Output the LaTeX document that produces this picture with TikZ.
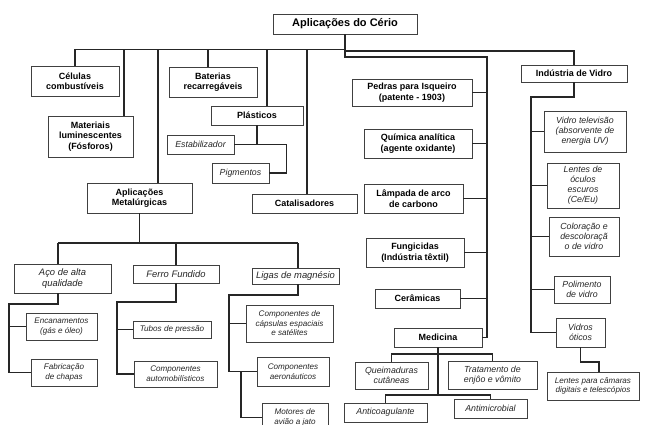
\documentclass[tikz,border=0pt]{standalone}
\usepackage{fontspec}
\setmainfont{Liberation Sans}

\begin{document}
\begin{tikzpicture}[x=1pt,y=-1pt,
  caixa/.style={draw=black!75, line width=0.9pt, fill=white, inner sep=0pt, align=center,
    font=\fontsize{9}{10.5}\selectfont\bfseries},
  sub/.style={caixa, font=\fontsize{9.4}{11}\selectfont\itshape, text=black!85},
  item/.style={caixa, font=\fontsize{8.8}{10}\selectfont\itshape, text=black!85},
  folha/.style={caixa, font=\fontsize{8.1}{9.6}\selectfont\itshape, text=black!85},
  tam/.style 2 args={minimum width=#1pt, minimum height=#2pt},
  liga/.style={line width=1.1pt, black!85}]
  \clip (0,0) rectangle (651,425);
  \useasboundingbox (0,0) rectangle (651,425);

  % raiz
  \node[caixa, tam={144}{20}, font=\fontsize{11}{13}\selectfont\bfseries] (raiz) at (345,24) {Aplicações do Cério};

  % ramos da esquerda
  \node[caixa, tam={88}{30}] (cel) at (75,81) {Células\\combustíveis};
  \node[caixa, tam={85}{41}] (mat) at (90.5,136.5) {Materiais\\luminescentes\\(Fósforos)};
  \node[caixa, tam={88}{30}] (bat) at (213,82) {Baterias\\recarregáveis};
  \node[caixa, tam={92}{19}] (pla) at (257,115.5) {Plásticos};
  \node[item, tam={67}{19}] (est) at (200.5,144.5) {Estabilizador};
  \node[item, tam={57}{20}] (pig) at (240.5,173) {Pigmentos};
  \node[caixa, tam={105}{30}] (met) at (139.5,198) {Aplicações\\Metalúrgicas};
  \node[caixa, tam={105}{19}] (cat) at (304.5,203.5) {Catalisadores};

  % metalurgia
  \node[sub, tam={97}{29}] (aco) at (62.5,278.5) {Aço de alta\\qualidade};
  \node[folha, tam={71}{27}] (enc) at (61.5,326.5) {Encanamentos\\(gás e óleo)};
  \node[folha, tam={66}{27}] (fab) at (64,372.5) {Fabricação\\de chapas};
  \node[sub, tam={86}{18}] (fer) at (176,274) {Ferro Fundido};
  \node[folha, tam={78}{17}] (tub) at (172,329.5) {Tubos de pressão};
  \node[folha, tam={83}{26}] (aut) at (175.5,374) {Componentes\\automobilísticos};
  \node[sub, tam={87}{16}] (lig) at (295.5,276) {Ligas de magnésio};
  \node[folha, tam={87}{37}] (cap) at (289.5,323.5) {Componentes de\\cápsulas espaciais\\e satélites};
  \node[folha, tam={72}{29}] (aer) at (293,371.5) {Componentes\\aeronáuticos};
  \node[folha, tam={66}{29}] (mot) at (295,417.5) {Motores de\\avião a jato};

  % coluna do meio
  \node[caixa, tam={120}{27}] (ped) at (412,92.5) {Pedras para Isqueiro\\(patente - 1903)};
  \node[caixa, tam={108}{29}] (qui) at (418,143.5) {Química analítica\\(agente oxidante)};
  \node[caixa, tam={99}{29}] (lam) at (413.5,198.5) {Lâmpada de arco\\de carbono};
  \node[caixa, tam={98}{29}] (fun) at (415,252.5) {Fungicidas\\(Indústria têxtil)};
  \node[caixa, tam={85}{19}] (cer) at (417.5,298.5) {Cerâmicas};
  \node[caixa, tam={88}{19}] (med) at (438,337.5) {Medicina};
  \node[item, tam={73}{27}] (que) at (391.5,375.5) {Queimaduras\\cutâneas};
  \node[item, tam={89}{28}] (tra) at (492.5,375) {Tratamento de\\enjôo e vômito};
  \node[item, tam={83}{19}] (ant) at (385.5,412.5) {Anticoagulante};
  \node[item, tam={73}{19}] (anm) at (490.5,408.5) {Antimicrobial};

  % vidro
  \node[caixa, tam={106}{17}] (vid) at (574,73.5) {Indústria de Vidro};
  \node[item, tam={82}{41}] (tel) at (585,131.5) {Vidro televisão\\(absorvente de\\energia UV)};
  \node[item, tam={72}{45}] (len) at (583,185.5) {Lentes de\\óculos\\escuros\\(Ce/Eu)};
  \node[item, tam={70}{39}] (col) at (584,236.5) {Coloração e\\descoloraçã\\o de vidro};
  \node[item, tam={56}{27}] (pol) at (582,289.5) {Polimento\\de vidro};
  \node[item, tam={49}{29}] (oti) at (580.5,332.5) {Vidros\\óticos};
  \node[folha, tam={92}{28}] (cam) at (593,386) {Lentes para câmaras\\digitais e telescópios};

  % barramentos da raiz
  \coordinate (bE) at (345,49.5);
  \coordinate (bV) at (345,51);
  \coordinate (bD) at (487,57);
  \draw[liga] (raiz.south) |- (bD) |- (med.east);
  \draw[liga] (bE) -| (cel.north);
  \draw[liga] (bV) -| (vid.north);
  \foreach \xx/\n in {124/mat,158/met,208/bat,267/pla,307/cat}{
    \coordinate (d) at (\xx,49.5);
    \draw[liga] (d) -- (d |- \n.north);
  }
  \foreach \n in {ped,qui,lam,fun,cer}
    \draw[liga] (\n.east) -- (\n.east -| bD);

  % plasticos
  \draw[liga] (pla.south) -- (pla.south |- est.east);
  \draw[liga] (est.east) -- ++(52,0) |- (pig.east);

  % metalurgia
  \coordinate (mE) at (58,243);
  \coordinate (mD) at (298,243);
  \draw[liga] (met.south) -- (met.south |- mE);
  \draw[liga] (mE) -- (mD);
  \draw[liga] (mE) -- (mE |- aco.north);
  \draw[liga] (fer.north) -- (fer.north |- mE);
  \draw[liga] (mD) -- (mD |- lig.north);

  \coordinate (aE) at (9,304);
  \draw[liga] (mE |- aco.south) |- (aE) |- (fab.west);
  \draw[liga] (aE |- enc.west) -- (enc.west);

  \coordinate (fE) at (117,302);
  \draw[liga] (fer.south) |- (fE) |- (aut.west);
  \draw[liga] (fE |- tub.west) -- (tub.west);

  \coordinate (lE) at (229,295);
  \coordinate (lE2) at (241,295);
  \draw[liga] (mD |- lig.south) |- (lE) |- (aer.west);
  \draw[liga] (lE |- cap.west) -- (cap.west);
  \draw[liga] (lE2 |- aer.west) |- (mot.west);

  % medicina
  \coordinate (m1) at (0,354);
  \coordinate (m2) at (0,395);
  \draw[liga] (med.south) -- (med.south |- m2);
  \draw[liga] (que.north) |- (med.south |- m1) -| (tra.north);
  \draw[liga] (ant.north) |- (med.south |- m2) -| (anm.north);

  % vidro
  \coordinate (bV2) at (531,97);
  \draw[liga] (vid.south) |- (bV2) |- (oti.west);
  \foreach \n in {tel,len,col,pol}
    \draw[liga] (bV2 |- \n.west) -- (\n.west);
  \coordinate (jCam) at (599,362);
  \draw[liga] (oti.south) |- (jCam) -- (jCam |- cam.north);
\end{tikzpicture}
\end{document}
